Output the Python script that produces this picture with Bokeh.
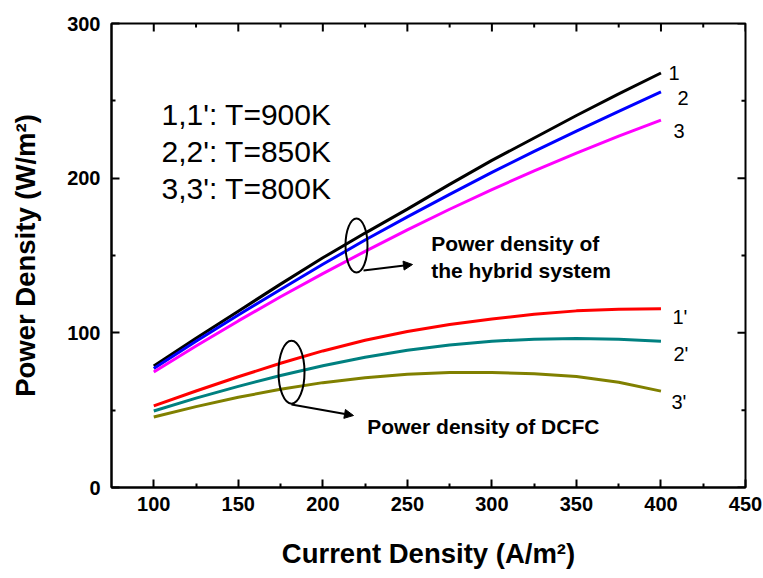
from bokeh.plotting import figure
from bokeh.models import (Range1d, FixedTicker, LinearAxis, Label, Arrow, NormalHead)
from bokeh.embed import file_html
from bokeh.resources import INLINE

# ---------------- data ----------------
current = [100, 125, 150, 175, 200, 225, 250, 275, 300, 325, 350, 375, 400]
hybrid_900 = [78.5, 96.5, 114, 131.5, 148.5, 164.5, 180, 196, 211.5, 226, 240.5, 254.5, 268]
hybrid_850 = [77, 94.5, 111.5, 128, 144.3, 160, 175, 189.5, 203.7, 217.3, 230.4, 243.2, 255.8]
hybrid_800 = [74.7, 91.5, 107.7, 123.3, 138.3, 152.7, 166.6, 179.9, 192.6, 204.7, 216.2, 227.2, 237.5]
dcfc_900 = [52.8, 62.4, 71.6, 80.3, 88.3, 95.2, 100.9, 105.4, 109, 112, 114.2, 115.3, 115.6]
dcfc_850 = [49.5, 57.8, 65.4, 72.4, 78.7, 84.2, 88.7, 92.2, 94.6, 95.9, 96.3, 95.8, 94.6]
dcfc_800 = [45.6, 52.3, 58.3, 63.5, 67.8, 71, 73.2, 74.3, 74.4, 73.6, 71.8, 68.0, 62.3]

x_ticks = [100, 150, 200, 250, 300, 350, 400, 450]
x_minor = [125, 175, 225, 275, 325, 375, 425]
y_ticks = [0, 100, 200, 300]
y_minor = [50, 150, 250]

series = [
    (hybrid_900, "#000000", "1"),
    (hybrid_850, "#0000FF", "2"),
    (hybrid_800, "#FF00FF", "3"),
    (dcfc_900, "#FF0000", "1'"),
    (dcfc_850, "#008080", "2'"),
    (dcfc_800, "#808000", "3'"),
]

FONT = "Liberation Sans"
X0, X1, Y0, Y1 = 75, 450, 0, 300
W, H = 763, 578
FL, FR, FT, FB = 111, 745, 23, 487  # frame edges in canvas pixels
SX = (X1 - X0) / (FR - FL)   # data units per pixel
SY = (Y1 - Y0) / (FB - FT)


def dx(px):
    return X0 + (px - FL) * SX


def dy(py):
    return Y0 + (FB - py) * SY


p = figure(width=W, height=H, output_backend="svg", toolbar_location=None,
           x_range=Range1d(X0, X1), y_range=Range1d(Y0, Y1),
           x_axis_location=None, y_axis_location=None,
           min_border_left=FL, min_border_right=W - FR,
           min_border_top=FT, min_border_bottom=H - FB)
p.grid.visible = False
p.outline_line_color = "black"
p.outline_line_width = 2
p.background_fill_color = "white"
p.border_fill_color = "white"


def make_axis(label, standoff, title_standoff):
    ax = LinearAxis(axis_label=label)
    ax.axis_line_width = 2
    ax.axis_line_color = "black"
    ax.major_tick_in = 8
    ax.major_tick_out = 0
    ax.minor_tick_in = 4
    ax.minor_tick_out = 0
    ax.major_tick_line_width = 2
    ax.minor_tick_line_width = 2
    ax.major_label_text_font = FONT
    ax.major_label_text_font_style = "bold"
    ax.major_label_text_font_size = "20px"
    ax.major_label_text_color = "black"
    ax.major_label_standoff = standoff
    ax.axis_label_text_font = FONT
    ax.axis_label_text_font_style = "bold"
    ax.axis_label_text_font_size = "27.5px"
    ax.axis_label_text_color = "black"
    ax.axis_label_standoff = title_standoff
    return ax


xb = make_axis("Current Density (A/m\u00b2)", 9, 24)
xb.ticker = FixedTicker(ticks=x_ticks, minor_ticks=x_minor)
p.add_layout(xb, "below")

yl = make_axis("Power Density (W/m\u00b2)", 11, 23)
yl.ticker = FixedTicker(ticks=y_ticks, minor_ticks=y_minor)
p.add_layout(yl, "left")

# mirrored inward ticks on the top and right frame edges, from the tick lists
for ticks, ln in [(x_ticks, 8), (x_minor, 4)]:
    p.segment(x0=ticks, y0=[Y1] * len(ticks), x1=ticks, y1=[Y1 - ln * SY] * len(ticks),
              line_color="black", line_width=2)
for ticks, ln in [(y_ticks, 8), (y_minor, 4)]:
    p.segment(x0=[X1] * len(ticks), y0=ticks, x1=[X1 - ln * SX] * len(ticks), y1=ticks,
              line_color="black", line_width=2)

for ys, col, _ in series:
    p.line(current, ys, line_color=col, line_width=3)

# curve-end labels
end_label_pos = {"1": (668, 72.7), "2": (677, 97.7), "3": (673, 130),
                 "1'": (672, 316), "2'": (673, 353.3), "3'": (671, 401.7)}
for _, _, name in series:
    px, py = end_label_pos[name]
    p.add_layout(Label(x=dx(px), y=dy(py), text=name, text_font=FONT,
                       text_font_size="20px", text_color="black",
                       text_baseline="alphabetic", text_align="left"))

# temperature legend text
legend_lines = ["1,1': T=900K", "2,2': T=850K", "3,3': T=800K"]
for i, t in enumerate(legend_lines):
    p.add_layout(Label(x=dx(161), y=dy(114.3 + 37 * i), text=t, text_font=FONT,
                       text_font_size="30px", text_color="black",
                       text_baseline="alphabetic", text_align="left"))

# annotations
for t, px, py in [("Power density of", 430.7, 243.3),
                  ("the hybrid system", 430.7, 270),
                  ("Power density of DCFC", 366.7, 425.7)]:
    p.add_layout(Label(x=dx(px), y=dy(py), text=t, text_font=FONT,
                       text_font_size="21px", text_font_style="bold",
                       text_color="black", text_baseline="alphabetic",
                       text_align="left"))

p.ellipse(x=[dx(356), dx(291)], y=[dy(245), dy(371.7)], width=[22, 26],
          height=[54, 63], width_units="screen", height_units="screen",
          fill_color=None, line_color="black", line_width=2)

for (sx, sy, ex, ey) in [(363, 270, 412, 264), (291, 404, 353, 415)]:
    p.add_layout(Arrow(end=NormalHead(size=9, fill_color="black", line_color="black"),
                       x_start=dx(sx), y_start=dy(sy), x_end=dx(ex), y_end=dy(ey),
                       line_width=2, line_color="black"))

open("out.html", "w").write(file_html(p, INLINE))
